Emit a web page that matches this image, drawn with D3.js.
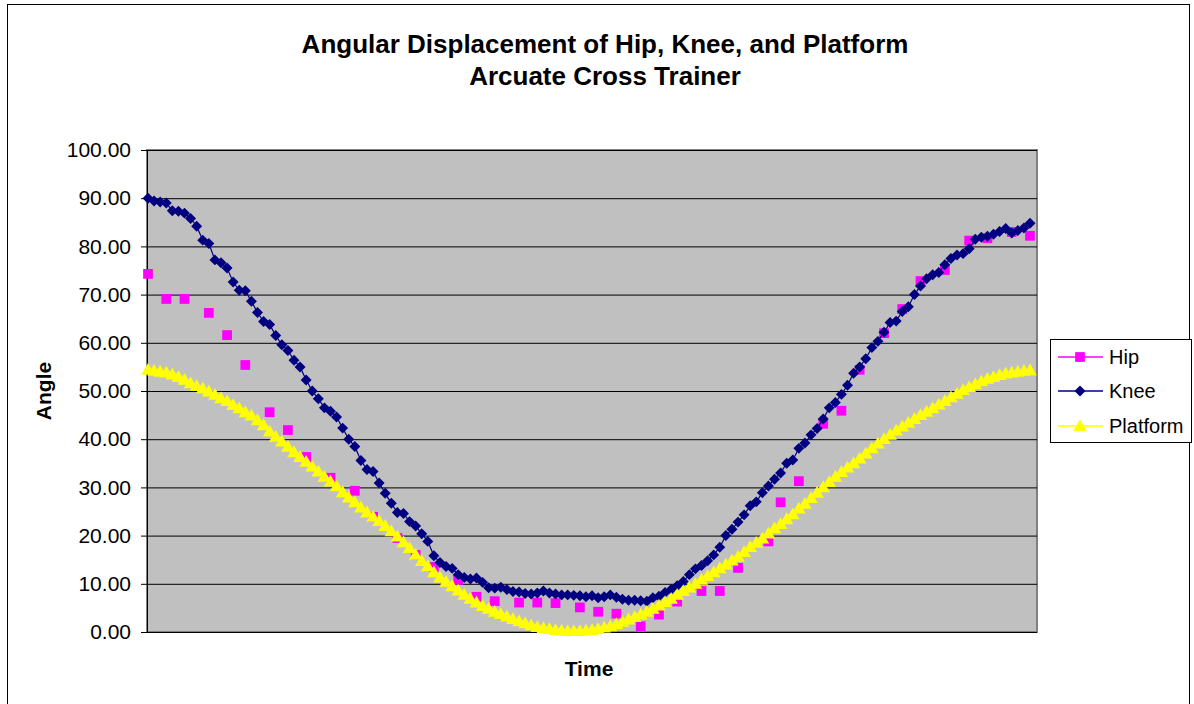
<!DOCTYPE html>
<html>
<head>
<meta charset="utf-8">
<script src="https://cdn.jsdelivr.net/npm/d3@7"></script>
<style>
  body { margin: 0; background: #fff; }
  svg { display: block; font-family: "Liberation Sans", Arial, sans-serif; }
</style>
</head>
<body>
<svg id="chart" width="1194" height="704"></svg>
<script>
// Données
const yTicks = [0, 10, 20, 30, 40, 50, 60, 70, 80, 90, 100];

const knee = [
  90.0, 89.4, 89.2, 89.0, 87.4, 87.3, 86.9, 85.8, 84.2, 81.3,
  80.6, 77.2, 76.6, 75.5, 72.6, 70.9, 70.8, 68.6, 66.3, 64.4,
  63.8, 61.5, 59.6, 58.4, 56.4, 55.0, 52.3, 50.0, 48.4, 46.5,
  45.8, 44.6, 42.3, 40.0, 38.5, 35.6, 33.7, 33.3, 30.9, 28.8,
  26.7, 24.8, 24.6, 22.9, 22.0, 20.4, 18.8, 15.8, 14.4, 13.6,
  13.2, 11.9, 11.3, 11.0, 11.2, 10.3, 9.2, 9.1, 9.3, 8.8,
  8.4, 8.3, 8.0, 7.9, 8.1, 8.5, 8.1, 7.9, 7.7, 7.7,
  7.6, 7.5, 7.3, 7.5, 7.1, 7.3, 7.7, 7.2, 6.8, 6.6,
  6.6, 6.5, 6.4, 7.1, 7.4, 8.2, 8.8, 9.6, 10.5, 11.9,
  13.1, 13.8, 14.8, 16.0, 17.6, 20.0, 21.3, 22.8, 24.3, 26.2,
  27.0, 28.9, 30.3, 31.7, 33.0, 35.0, 35.7, 38.1, 39.2, 40.9,
  42.2, 44.2, 46.5, 47.6, 49.3, 51.2, 53.7, 55.0, 56.7, 59.0,
  60.3, 62.2, 64.2, 64.5, 66.5, 67.5, 70.0, 71.8, 73.3, 74.1,
  74.6, 76.2, 77.5, 78.2, 78.5, 79.5, 81.5, 81.9, 82.1, 82.5,
  83.1, 83.7, 82.8, 83.3, 83.8, 84.8
];

const platform = [
  54.4, 54.2, 54.0, 53.8, 53.4, 52.9, 52.3, 51.6, 51.0, 50.5,
  49.9, 49.2, 48.5, 47.9, 47.1, 46.4, 45.6, 44.9, 43.9, 42.9,
  41.6, 40.5, 39.5, 38.4, 37.3, 36.3, 35.3, 34.3, 33.3, 32.2,
  31.2, 30.2, 29.0, 27.9, 26.9, 25.8, 24.8, 23.9, 23.0, 22.0,
  20.9, 19.8, 18.6, 17.4, 16.0, 14.7, 13.6, 12.4, 11.3, 10.4,
  9.5, 8.6, 7.7, 6.9, 6.1, 5.4, 4.8, 4.2, 3.7, 3.2,
  2.7, 2.2, 1.8, 1.4, 1.0, 0.8, 0.6, 0.4, 0.3, 0.2,
  0.2, 0.2, 0.3, 0.4, 0.6, 0.9, 1.2, 1.6, 2.1, 2.6,
  3.1, 3.6, 4.2, 4.8, 5.5, 6.2, 6.9, 7.7, 8.5, 9.2,
  10.0, 10.8, 11.6, 12.4, 13.2, 14.0, 14.8, 15.6, 16.6, 17.6,
  18.5, 19.4, 20.4, 21.5, 22.4, 23.4, 24.4, 25.6, 26.6, 27.8,
  28.9, 30.0, 31.1, 32.2, 33.2, 34.1, 35.0, 36.0, 37.0, 38.1,
  39.1, 40.0, 40.9, 41.8, 42.6, 43.4, 44.2, 45.0, 45.7, 46.4,
  47.2, 47.9, 48.7, 49.4, 50.2, 50.8, 51.4, 52.0, 52.5, 52.9,
  53.3, 53.6, 53.8, 54.0, 54.2, 54.3
];

// La hanche n'est mesurée qu'à certains instants (trous entre les points)
const hipIndex = [
  0, 3, 6, 10, 13, 16, 20, 23, 26, 30, 34, 37, 41, 44, 47,
  51, 54, 57, 61, 64, 67, 71, 74, 77, 81, 84, 87, 91, 94, 97,
  102, 104, 107, 111, 114, 117, 121, 124, 127, 131, 135, 138, 142, 145
];
const hipValue = [
  74.3, 69.1, 69.1, 66.2, 61.6, 55.4, 45.6, 41.9, 36.3, 32.0, 29.3, 23.9, 19.5, 16.0, 13.5,
  10.8, 7.3, 6.4, 6.1, 6.1, 6.0, 5.1, 4.2, 3.8, 1.2, 3.6, 6.3, 8.5, 8.5, 13.3,
  18.8, 26.9, 31.3, 43.2, 45.9, 54.4, 62.0, 67.0, 72.8, 75.1, 81.2, 81.7, 83.0, 82.2
];

const seriesNames = ["Hip", "Knee", "Platform"];
const seriesColors = ["#FF00FF", "#000080", "#FFFF00"];

// Dimensions
const width = 1194, height = 704;
const plot = { left: 147, top: 150, width: 890, height: 482 };

const svg = d3.select("#chart");

// Cadre extérieur
svg.append("rect")
    .attr("x", 7.5).attr("y", 4.5)
    .attr("width", 1182).attr("height", 720)
    .attr("fill", "#fff")
    .attr("stroke", "#000")
    .attr("stroke-width", 1);

// Titre
svg.append("text")
    .attr("x", 605).attr("y", 53)
    .attr("text-anchor", "middle")
    .attr("font-size", 26).attr("font-weight", "bold")
    .text("Angular Displacement of Hip, Knee, and Platform");
svg.append("text")
    .attr("x", 605).attr("y", 85)
    .attr("text-anchor", "middle")
    .attr("font-size", 26).attr("font-weight", "bold")
    .text("Arcuate Cross Trainer");

const g = svg.append("g").attr("transform", `translate(${plot.left},${plot.top})`);

const x = d3.scaleLinear()
    .domain([0, knee.length - 1])
    .range([1, 883]);
const y = d3.scaleLinear()
    .domain([0, 100])
    .range([plot.height, 0]);

// Fond gris de la zone de tracé
g.append("rect")
    .attr("width", plot.width).attr("height", plot.height)
    .attr("fill", "#C0C0C0")
    .attr("stroke", "#808080")
    .attr("stroke-width", 2);

// Lignes de grille
g.selectAll(".grid")
    .data(yTicks.filter(d => d > 0))
    .join("line")
    .attr("x1", 0).attr("x2", plot.width)
    .attr("y1", d => y(d) + 0.5).attr("y2", d => y(d) + 0.5)
    .attr("stroke", "#000").attr("stroke-width", 1);

// Axe Y
const yAxis = d3.axisLeft(y)
    .tickValues(yTicks)
    .tickFormat(d3.format(".2f"))
    .tickSize(6)
    .tickPadding(10);
const yAxisG = g.append("g").call(yAxis);
yAxisG.select(".domain").attr("stroke", "#000").attr("d", `M0.5,0V${plot.height}`);
yAxisG.selectAll(".tick line").attr("stroke", "#000");
yAxisG.selectAll("text")
    .attr("font-size", 21)
    .attr("font-family", "Liberation Sans, Arial, sans-serif")
    .attr("fill", "#000");

// Axe X (sans graduations)
g.append("line")
    .attr("x1", 0).attr("x2", plot.width)
    .attr("y1", plot.height + 0.5).attr("y2", plot.height + 0.5)
    .attr("stroke", "#000");

// Titres des axes
svg.append("text")
    .attr("transform", "translate(51,391) rotate(-90)")
    .attr("text-anchor", "middle")
    .attr("font-size", 21).attr("font-weight", "bold")
    .text("Angle");
svg.append("text")
    .attr("x", 589).attr("y", 676)
    .attr("text-anchor", "middle")
    .attr("font-size", 21).attr("font-weight", "bold")
    .text("Time");

// Symboles
const squareSym = d3.symbol().type(d3.symbolSquare).size(95);
const diamondSym = d3.symbol().type(d3.symbolSquare).size(60);
const triangleSym = d3.symbol().type(d3.symbolTriangle).size(80);

const line = d3.line()
    .x((d, i) => x(i))
    .y(d => y(d));

// Hanche : seulement des marqueurs
const hipPoints = hipIndex.map((idx, k) => ({ i: idx, v: hipValue[k] }));
g.append("g").selectAll("path")
    .data(hipPoints)
    .join("path")
    .attr("d", squareSym)
    .attr("transform", d => `translate(${x(d.i)},${y(d.v)})`)
    .attr("fill", seriesColors[0]);

// Genou
g.append("path")
    .datum(knee)
    .attr("d", line)
    .attr("fill", "none")
    .attr("stroke", seriesColors[1])
    .attr("stroke-width", 1.2);
g.append("g").selectAll("path")
    .data(knee)
    .join("path")
    .attr("d", diamondSym)
    .attr("transform", (d, i) => `translate(${x(i)},${y(d)}) rotate(45)`)
    .attr("fill", seriesColors[1]);

// Plateforme
g.append("path")
    .datum(platform)
    .attr("d", line)
    .attr("fill", "none")
    .attr("stroke", seriesColors[2])
    .attr("stroke-width", 1.2);
g.append("g").selectAll("path")
    .data(platform)
    .join("path")
    .attr("d", triangleSym)
    .attr("transform", (d, i) => `translate(${x(i)},${y(d) + 1})`)
    .attr("fill", seriesColors[2]);

// Légende
const legend = svg.append("g").attr("transform", "translate(1050,339)");
legend.append("rect")
    .attr("x", 0.5).attr("y", 0.5)
    .attr("width", 141).attr("height", 103)
    .attr("fill", "#fff")
    .attr("stroke", "#000");

const legendY = [18, 52, 87];
const legendSyms = [squareSym, diamondSym, triangleSym];
seriesNames.forEach((name, k) => {
    const item = legend.append("g").attr("transform", `translate(0,${legendY[k]})`);
    item.append("line")
        .attr("x1", 8).attr("x2", 53)
        .attr("stroke", seriesColors[k]).attr("stroke-width", 1.5);
    item.append("path")
        .attr("d", legendSyms[k])
        .attr("transform", `translate(30,${k === 2 ? 1 : 0})${k === 1 ? " rotate(45)" : ""}`)
        .attr("fill", seriesColors[k]);
    item.append("text")
        .attr("x", 59).attr("y", 7)
        .attr("font-size", 20)
        .text(name);
});
</script>
</body>
</html>
